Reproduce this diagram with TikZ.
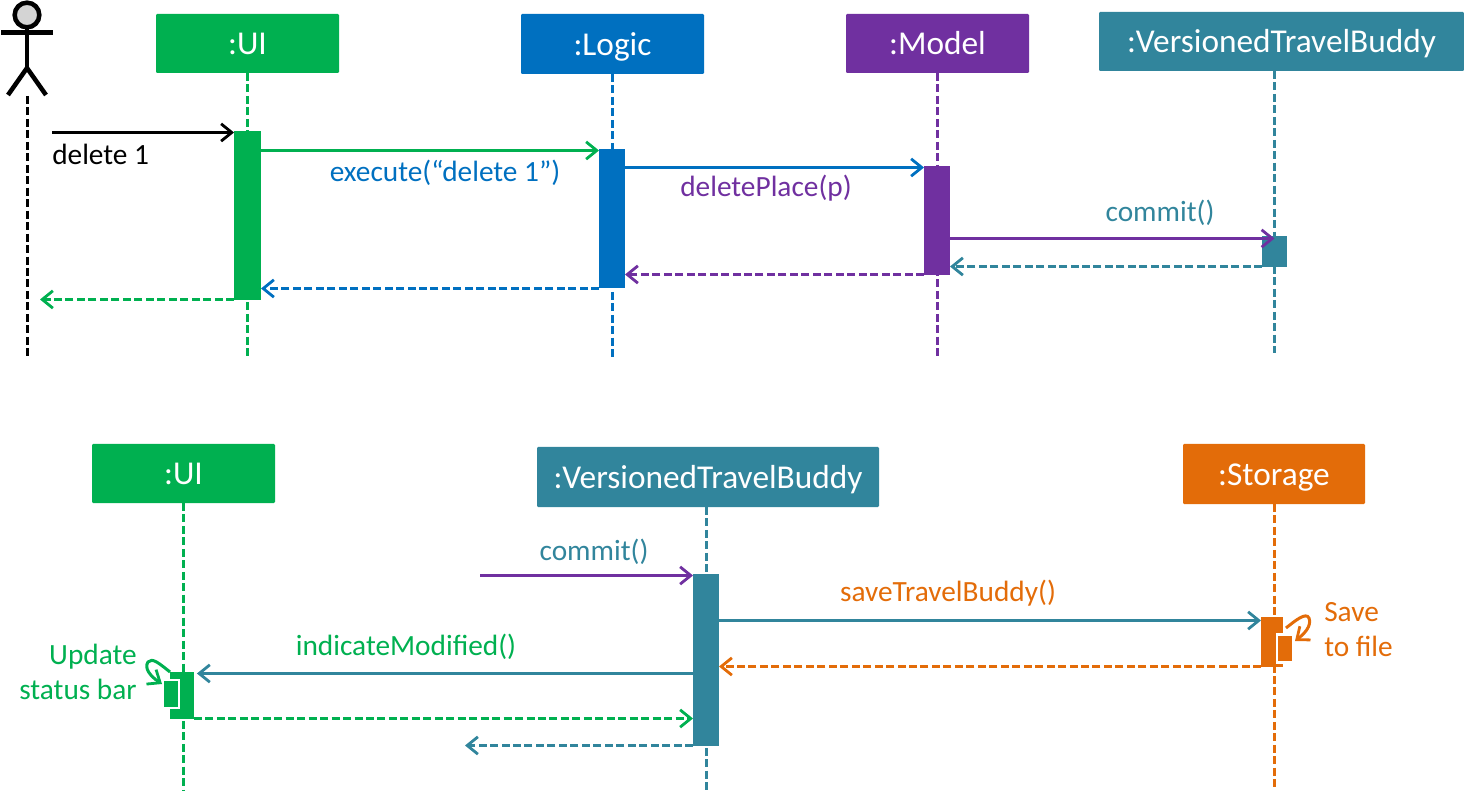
\documentclass[tikz,border=0pt]{standalone}
\usepackage{fontspec}
\setmainfont{Carlito}
\usetikzlibrary{arrows.meta,calc}
\definecolor{cgreen}{HTML}{00B050}
\definecolor{cblue}{HTML}{0070C0}
\definecolor{cpurple}{HTML}{7030A0}
\definecolor{cteal}{HTML}{31859C}
\definecolor{corange}{HTML}{E36C09}
\newcommand{\pxbox}[6]{% name, colour, x0, y0, x1, y1
  \node[barbox, fill=#2, minimum width={(#5-#3)*0.75pt}, minimum height={(#6-#4)*0.75pt}] (#1) at ({(#3+#5)/2},{(#4+#6)/2}) {};}
\newcommand{\headbox}[7]{% name, colour, x0, y0, x1, y1, text
  \node[barbox, head, fill=#2, minimum width={(#5-#3)*0.75pt}, minimum height={(#6-#4)*0.75pt}] (#1) at ({(#3+#5)/2},{(#4+#6)/2}) {#7};}
\tikzset{
  barbox/.style={inner sep=0pt, outer sep=0pt, draw=none, rectangle},
  head/.style={text=white, font=\fontsize{25}{29}\selectfont, rounded corners=0.8pt, text height=17pt, text depth=0pt},
  subbar/.style={draw=white, line width=1.6pt},
  msg/.style={line width=2.25pt, -{Straight Barb[length=8pt, width=13pt, line width=2.1pt]}},
  ret/.style={msg, dash pattern=on 6pt off 2.6pt},
  life/.style={line width=2.25pt, dash pattern=on 6pt off 2.6pt},
  lbl/.style={inner sep=0pt, font=\fontsize{22}{26}\selectfont, text height=15pt, text depth=0.8pt},
  limb/.style={line width=3.4pt, black},
}
\begin{document}
\begin{tikzpicture}[x=0.75pt,y=-0.75pt]
\useasboundingbox (0,0) rectangle (1464,791);
% lifeline ends
\coordinate (endA) at (27.5,357);
\coordinate (endUI) at (247.5,357);
\coordinate (endL) at (612.5,357);
\coordinate (endM) at (937.5,357);
\coordinate (endV) at (1274.5,353);
\coordinate (endUIb) at (183.5,790);
\coordinate (endVb) at (706.5,790);
\coordinate (endS) at (1274.5,790);
% actor
\node[circle, draw=black, line width=3.4pt, fill=black!17, minimum size=18.5pt, inner sep=0pt, outer sep=0pt] (actorhead) at (27,15) {};
\coordinate (hip) at (27,68);
\coordinate (armL) at (1,32.5);
\coordinate (armR) at (53,32.5);
\coordinate (legL) at (8,95);
\coordinate (legR) at (46,95);
\draw[limb] (actorhead.south) -- (hip);
\draw[limb] (armL) -- (armR);
\draw[limb] (legL) -- (hip) -- (legR);
\coordinate (actorfoot) at (27.5,96);
\draw[life, black] (actorfoot) -- (endA);
% top heads
\headbox{ui}{cgreen}{156}{14}{339}{73}{:UI}
\headbox{logic}{cblue}{521}{14}{704}{74}{:Logic}
\headbox{model}{cpurple}{846}{14}{1029}{73}{:Model}
\headbox{vtb}{cteal}{1099}{12}{1464}{71}{:VersionedTravelBuddy}
\draw[life, cgreen] (ui.south -| endUI) -- (endUI);
\draw[life, cblue] (logic.south -| endL) -- (endL);
\draw[life, cpurple] (model.south -| endM) -- (endM);
\draw[life, cteal] (vtb.south -| endV) -- (endV);
% top bars
\pxbox{uibar}{cgreen}{234}{131}{261}{300}
\pxbox{logicbar}{cblue}{599}{149}{625}{288}
\pxbox{modelbar}{cpurple}{924}{166}{950}{275}
\pxbox{vtbbar}{cteal}{1262}{236}{1287}{267}
% top messages
\coordinate (start1) at (52,132.5);
\coordinate (end8) at (40,299.5);
\coordinate (y2) at (0,150.5);
\coordinate (y3) at (0,167.5);
\coordinate (y4) at (0,238.5);
\coordinate (y5) at (0,266.5);
\coordinate (y6) at (0,274.5);
\coordinate (y7) at (0,288.5);
\draw[msg, black] (start1) -- (uibar.west |- start1);
\draw[msg, cgreen] (uibar.east |- y2) -- (logicbar.west |- y2);
\draw[msg, cblue] (logicbar.east |- y3) -- (modelbar.west |- y3);
\draw[msg, cpurple] (modelbar.east |- y4) -- (vtbbar.center |- y4);
\draw[ret, cteal] (vtbbar.west |- y5) -- (modelbar.east |- y5);
\draw[ret, cpurple] (modelbar.west |- y6) -- (logicbar.east |- y6);
\draw[ret, cblue] (logicbar.west |- y7) -- (uibar.east |- y7);
\draw[ret, cgreen] (uibar.west |- end8) -- (end8);
\node[lbl, anchor=west, text=black] (t1) at (52,155) {delete 1};
\node[lbl, text=cblue] (t2) at (445,172) {execute(“delete 1”)};
\node[lbl, text=cpurple] (t3) at (766,187) {deletePlace(p)};
\node[lbl, text=cteal] (t4) at (1160,212) {commit()};
% bottom heads
\headbox{uib}{cgreen}{92}{444}{275}{503}{:UI}
\headbox{vtbb}{cteal}{537}{447}{879}{507}{:VersionedTravelBuddy}
\headbox{stor}{corange}{1183}{444}{1365}{504}{:Storage}
\draw[life, cgreen] (uib.south -| endUIb) -- (endUIb);
\draw[life, cteal] (vtbb.south -| endVb) -- (endVb);
\draw[life, corange] (stor.south -| endS) -- (endS);
% bottom bars
\pxbox{uibarb}{cgreen}{170}{672}{194}{719}
\pxbox{vtbbarb}{cteal}{693}{574}{719}{746}
\pxbox{storbar}{corange}{1261}{617}{1283}{667}
\node[barbox, subbar, fill=cgreen, minimum width=12pt, minimum height=21pt] (uisub) at (171,694) {};
\node[barbox, subbar, fill=corange, minimum width=12pt, minimum height=21pt] (storsub) at (1285,648.5) {};
% bottom messages
\coordinate (start9) at (480,575.5);
\coordinate (y10) at (0,620.5);
\coordinate (y11) at (0,666.5);
\coordinate (y12) at (0,673.5);
\coordinate (y13) at (0,718.5);
\coordinate (end14) at (465,745.5);
\draw[msg, cpurple] (start9) -- (vtbbarb.west |- start9);
\draw[msg, cteal] (vtbbarb.east |- y10) -- (storbar.west |- y10);
\draw[ret, corange] (storbar.west |- y11) -- (vtbbarb.east |- y11);
\draw[msg, cteal] (vtbbarb.west |- y12) -- ([xshift=2.2pt]uibarb.east |- y12);
\draw[ret, cgreen] (uibarb.east |- y13) -- (vtbbarb.west |- y13);
\draw[ret, cteal] (vtbbarb.west |- end14) -- (end14);
% self calls
\coordinate (selfU) at (170,672);
\coordinate (selfUend) at (162,684);
\draw[msg, cgreen] (selfU) .. controls (160,664) and (152,657) .. (148,662) .. controls (144,668) and (150,676) .. (selfUend);
\coordinate (selfS) at (1286,628);
\coordinate (selfSend) at (1295,641);
\draw[msg, corange] (selfS) .. controls (1296,620) and (1306,612) .. (1309,618) .. controls (1312,626) and (1304,634) .. (selfSend);
\node[lbl, text=cteal] (t5) at (594,551) {commit()};
\node[lbl, text=corange] (t6) at (948,592) {saveTravelBuddy()};
\node[lbl, text=cgreen] (t7) at (406,646) {indicateModified()};
\node[lbl, text=cgreen] (t8) at (93,655) {Update};
\node[lbl, text=cgreen] (t9) at (78,690) {status bar};
\node[lbl, text=corange, anchor=west] (t10) at (1324,612) {Save};
\node[lbl, text=corange, anchor=west] (t11) at (1324,647) {to file};
\end{tikzpicture}
\end{document}
